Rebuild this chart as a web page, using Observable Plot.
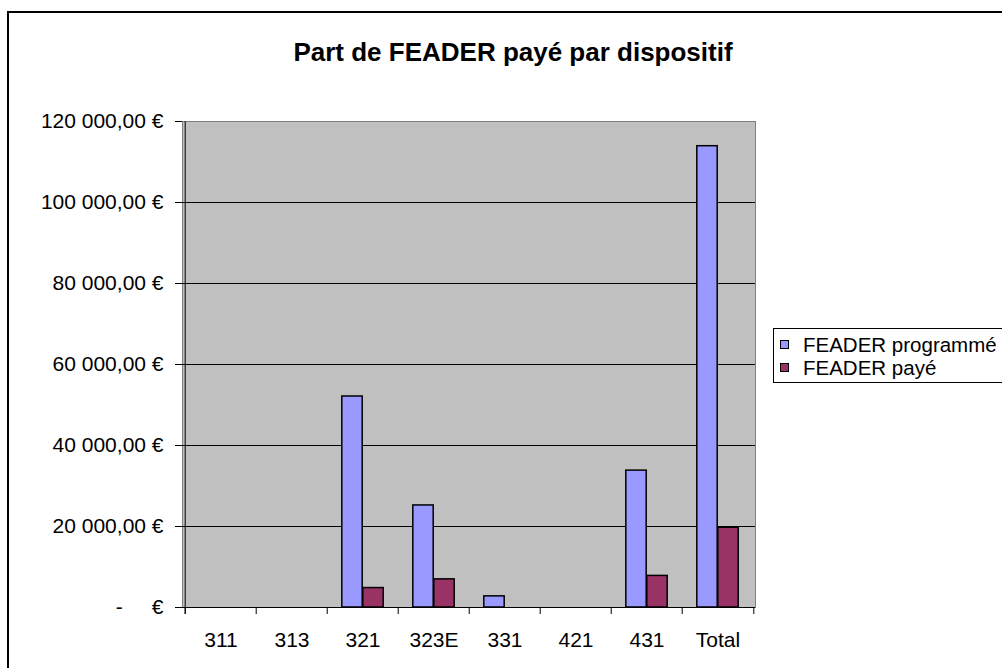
<!DOCTYPE html>
<html>
<head>
<meta charset="utf-8">
<script src="https://cdn.jsdelivr.net/npm/d3@7"></script>
<script src="https://cdn.jsdelivr.net/npm/@observablehq/plot@0.6"></script>
<style>
  html, body { margin: 0; padding: 0; background: #fff; }
  #wrap { position: relative; width: 1002px; height: 668px; overflow: hidden; font-family: "Liberation Sans", Arial, sans-serif; }
  #plot { position: absolute; left: 0; top: 0; }
  #border { position: absolute; left: 7px; top: 11px; width: 1100px; height: 800px; border-left: 2px solid #000; border-top: 2px solid #000; pointer-events: none; z-index: 5; }
  #title { position: absolute; left: 0; width: 1026px; top: 39px; text-align: center; font-weight: bold; font-size: 26px; line-height: 26px; z-index: 4; }
  #legend { position: absolute; left: 773px; top: 328px; width: 300px; border: 1px solid #000; background: #fff; padding: 4px 0 3px 0; z-index: 4; }
  .li { display: flex; align-items: center; height: 23px; font-size: 20.5px; line-height: 23px; white-space: nowrap; }
  .sw { width: 7px; height: 7px; border: 1px solid #000; margin-left: 6px; margin-right: 14px; }
</style>
</head>
<body>
<div id="wrap">
  <div id="plot"></div>
  <div id="border"></div>
  <div id="title">Part de FEADER payé par dispositif</div>
  <div id="legend"></div>
</div>
<script>
// ---- data ----
const categories = ["311", "313", "321", "323E", "331", "421", "431", "Total"];
const feaderProgramme = [0, 0, 52100, 25200, 2750, 0, 33800, 113900];
const feaderPaye = [0, 0, 4800, 6950, 0, 0, 7800, 19700];
const seriesNames = ["FEADER programmé", "FEADER payé"];
const seriesColors = ["#9999FF", "#993366"];
const yTicks = [0, 20000, 40000, 60000, 80000, 100000, 120000];

// ---- build ----
const W = 1002, H = 668;
const mL = 182, mR = 247, mT = 121, mB = 61;
const bw = (W - mL - mR) / categories.length;
const groupW = 42, barW = groupW / 2;
const inOuter = (bw - groupW) / 2;
const inInner = bw - inOuter - barW;

const prog = categories.map((c, i) => ({cat: c, value: feaderProgramme[i]})).filter(d => d.value > 0);
const paye = categories.map((c, i) => ({cat: c, value: feaderPaye[i]})).filter(d => d.value > 0);

const loc = d3.formatLocale({decimal: ",", thousands: "\u00A0", grouping: [3], currency: ["", "\u00A0€"]});
const f2 = loc.format(",.2f");
const fmt = v => v === 0 ? "-\u00A0\u00A0\u00A0\u00A0\u00A0€" : f2(v) + "\u00A0€";

const chart = Plot.plot({
  width: W, height: H,
  marginLeft: mL, marginRight: mR, marginTop: mT, marginBottom: mB,
  style: {fontFamily: "'Liberation Sans', Arial, sans-serif", fontSize: "21px", color: "#000", background: "transparent"},
  x: {domain: categories, padding: 0, label: null},
  y: {domain: [0, 120000], label: null},
  marks: [
    Plot.frame({fill: "#C0C0C0", stroke: "#808080"}),
    Plot.ruleY(yTicks.filter(v => v > 0 && v < 120000), {stroke: "#000", strokeWidth: 1}),
    Plot.barY(prog, {x: "cat", y: "value", fill: seriesColors[0], stroke: "#000", strokeWidth: 1.5, insetLeft: inOuter, insetRight: inInner}),
    Plot.barY(paye, {x: "cat", y: "value", fill: seriesColors[1], stroke: "#000", strokeWidth: 1.5, insetLeft: inInner, insetRight: inOuter}),
    Plot.ruleX([categories[0]], {dx: -bw / 2, stroke: "#000", insetBottom: -7}),
    Plot.ruleY([0], {stroke: "#000"}),
    Plot.ruleX(categories, {x: d => d, dx: -bw / 2, y1: 0, y2: 0, insetBottom: -7, stroke: "#000"}),
    Plot.ruleX([categories[categories.length - 1]], {dx: bw / 2, y1: 0, y2: 0, insetBottom: -7, stroke: "#000"}),
    Plot.axisY({ticks: yTicks, tickSize: 7, tickPadding: 12, tickFormat: fmt, fontSize: 21, stroke: "#000", label: null}),
    Plot.axisX({tickSize: 0, tickPadding: 25, fontSize: 21, label: null})
  ]
});
document.getElementById("plot").appendChild(chart);

const leg = document.getElementById("legend");
seriesNames.forEach((n, i) => {
  const row = document.createElement("div");
  row.className = "li";
  row.innerHTML = `<span class="sw" style="background:${seriesColors[i]}"></span><span>${n}</span>`;
  leg.appendChild(row);
});
</script>
</body>
</html>
